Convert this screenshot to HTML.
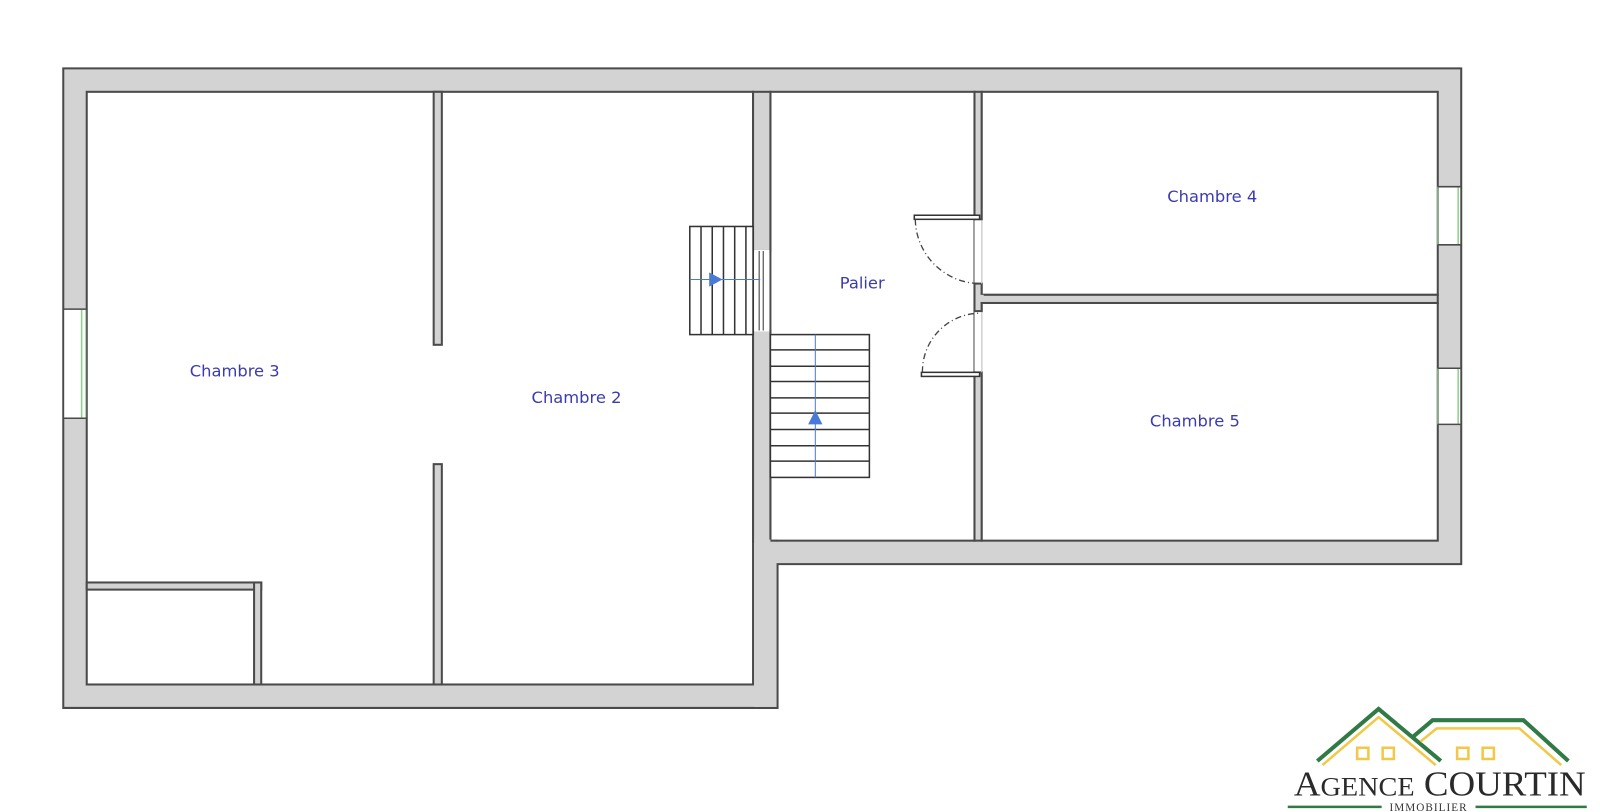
<!DOCTYPE html>
<html><head><meta charset="utf-8"><style>
html,body{margin:0;padding:0;background:#fff;width:1600px;height:812px;overflow:hidden}
svg{display:block}
.lbl{font-family:"DejaVu Sans","Liberation Sans",sans-serif;font-size:16px;fill:#3b3bb0}
</style></head><body>
<svg width="1600" height="812" viewBox="0 0 1568 796" preserveAspectRatio="none" xmlns="http://www.w3.org/2000/svg">
<g stroke="#4a4a4a" stroke-width="2">
<polygon points="62,67 1432,67 1432,553 762,553 762,694 62,694" fill="#d3d3d3"/>
<rect x="85" y="90" width="653" height="581" fill="#fff"/>
<rect x="755" y="90" width="200" height="440" fill="#fff"/>
<rect x="962" y="90" width="447" height="199" fill="#fff"/>
<rect x="962" y="297" width="447" height="233" fill="#fff"/>
<rect x="425" y="90" width="8" height="248" fill="#d3d3d3"/>
<rect x="425" y="455" width="8" height="216" fill="#d3d3d3"/>
<rect x="85" y="571" width="171" height="7" fill="#d3d3d3"/>
<rect x="249" y="571" width="7" height="100" fill="#d3d3d3"/>
<rect x="738" y="90" width="17" height="156" fill="#d3d3d3"/>
<rect x="738" y="324" width="17" height="207" fill="#d3d3d3"/>
<rect x="955" y="90" width="7" height="125" fill="#d3d3d3"/>
<rect x="955" y="278" width="7" height="27" fill="#d3d3d3"/>
<rect x="955" y="365" width="7" height="165" fill="#d3d3d3"/>
<rect x="962" y="289" width="447" height="8" fill="#d3d3d3"/>
</g>
<g fill="#d3d3d3">
<rect x="739" y="529" width="22" height="23"/>
<rect x="739" y="552" width="22" height="141"/>
<rect x="956" y="289" width="8" height="7"/>
</g>
<line x1="755" y1="530" x2="762" y2="530" stroke="#4a4a4a" stroke-width="2"/>
<rect x="739" y="245" width="15" height="80" fill="#fff"/>
<line x1="744" y1="246" x2="744" y2="324" stroke="#555" stroke-width="1.2"/>
<line x1="748" y1="246" x2="748" y2="324" stroke="#555" stroke-width="1.2"/>
<rect x="955" y="216" width="8" height="61" fill="#fff"/>
<rect x="955" y="306" width="8" height="58" fill="#fff"/>
<line x1="962" y1="216" x2="962" y2="278" stroke="#ccc" stroke-width="1"/>
<line x1="962" y1="306" x2="962" y2="365" stroke="#ccc" stroke-width="1"/>
<g>
<rect x="63" y="303" width="21" height="107" fill="#fff"/>
<line x1="80" y1="303" x2="80" y2="410" stroke="#8fd08f" stroke-width="1.5"/>
<line x1="84" y1="303" x2="84" y2="410" stroke="#8fd08f" stroke-width="1"/>
<rect x="1410" y="183" width="21" height="57" fill="#fff"/>
<line x1="1409" y1="183" x2="1409" y2="240" stroke="#8fd08f" stroke-width="1"/>
<line x1="1429" y1="183" x2="1429" y2="240" stroke="#8fd08f" stroke-width="1.5"/>
<rect x="1410" y="361" width="21" height="55" fill="#fff"/>
<line x1="1409" y1="361" x2="1409" y2="416" stroke="#8fd08f" stroke-width="1"/>
<line x1="1429" y1="361" x2="1429" y2="416" stroke="#8fd08f" stroke-width="1.5"/>
</g>
<g stroke="#4a4a4a" stroke-width="1.5" fill="none">
<line x1="62" y1="303" x2="85" y2="303"/>
<line x1="62" y1="410" x2="85" y2="410"/>
<line x1="1409" y1="183" x2="1432" y2="183"/>
<line x1="1409" y1="240" x2="1432" y2="240"/>
<line x1="1409" y1="361" x2="1432" y2="361"/>
<line x1="1409" y1="416" x2="1432" y2="416"/>
</g>
<g stroke="#333" stroke-width="1.5" fill="#fff">
<rect x="676" y="222" width="62" height="106"/>
<line x1="687" y1="222" x2="687" y2="328"/>
<line x1="698" y1="222" x2="698" y2="328"/>
<line x1="709" y1="222" x2="709" y2="328"/>
<line x1="720" y1="222" x2="720" y2="328"/>
<line x1="731" y1="222" x2="731" y2="328"/>
</g>
<line x1="676" y1="274" x2="745" y2="274" stroke="#4a7ad8" stroke-width="1"/>
<polygon points="695,267 695,281 708,274" fill="#4a7ad8"/>
<g stroke="#333" stroke-width="1.5" fill="#fff">
<rect x="755" y="328" width="97" height="140"/>
<line x1="755" y1="343" x2="852" y2="343"/>
<line x1="755" y1="359" x2="852" y2="359"/>
<line x1="755" y1="374" x2="852" y2="374"/>
<line x1="755" y1="390" x2="852" y2="390"/>
<line x1="755" y1="405" x2="852" y2="405"/>
<line x1="755" y1="421" x2="852" y2="421"/>
<line x1="755" y1="437" x2="852" y2="437"/>
<line x1="755" y1="452" x2="852" y2="452"/>
</g>
<line x1="799" y1="328" x2="799" y2="468" stroke="#4a7ad8" stroke-width="1"/>
<polygon points="792,416 806,416 799,402" fill="#4a7ad8"/>
<g stroke="#333" stroke-width="1.5" fill="#fff">
<rect x="896" y="211" width="64" height="4"/>
<rect x="903" y="365" width="57" height="4"/>
</g>
<g stroke="#444" stroke-width="1.3" fill="none" stroke-dasharray="6,3,1,3">
<path d="M897,215 A64,64 0 0 0 960,278"/>
<path d="M904,365 A57,57 0 0 1 960,307"/>
</g>
<text class="lbl" x="230" y="369" text-anchor="middle">Chambre 3</text>
<text class="lbl" x="565" y="395" text-anchor="middle">Chambre 2</text>
<text class="lbl" x="845" y="283" text-anchor="middle">Palier</text>
<text class="lbl" x="1188" y="198" text-anchor="middle">Chambre 4</text>
<text class="lbl" x="1171" y="418" text-anchor="middle">Chambre 5</text>
<!-- logo -->
<g fill="none" stroke-linejoin="miter">
<polyline points="1291,746 1351,695 1412,746" stroke="#2f7a45" stroke-width="4"/>
<polyline points="1296,750 1351,703 1407,750" stroke="#f1c94a" stroke-width="2.5"/>
<polyline points="1385,722 1404,706 1493,706 1537,746" stroke="#2f7a45" stroke-width="4"/>
<polyline points="1392,727 1408,714 1489,714 1530,750" stroke="#f1c94a" stroke-width="2.5"/>
<g stroke="#f1c94a" stroke-width="2.5">
<rect x="1330" y="733" width="11" height="11"/>
<rect x="1355" y="733" width="11" height="11"/>
<rect x="1428" y="733" width="11" height="11"/>
<rect x="1453" y="733" width="11" height="11"/>
</g>
</g>
<text x="1268" y="780" font-family="Liberation Serif,serif" font-size="34" fill="#2a2a2a" textLength="286" lengthAdjust="spacingAndGlyphs">A<tspan font-size="26">GENCE</tspan> COURTIN</text>
<line x1="1262" y1="791" x2="1354" y2="791" stroke="#2f7a45" stroke-width="2.5"/>
<line x1="1446" y1="791" x2="1555" y2="791" stroke="#2f7a45" stroke-width="2.5"/>
<text x="1400" y="795" text-anchor="middle" font-family="Liberation Serif,serif" font-size="11" fill="#333" letter-spacing="1">IMMOBILIER</text>
</svg>
</body></html>
